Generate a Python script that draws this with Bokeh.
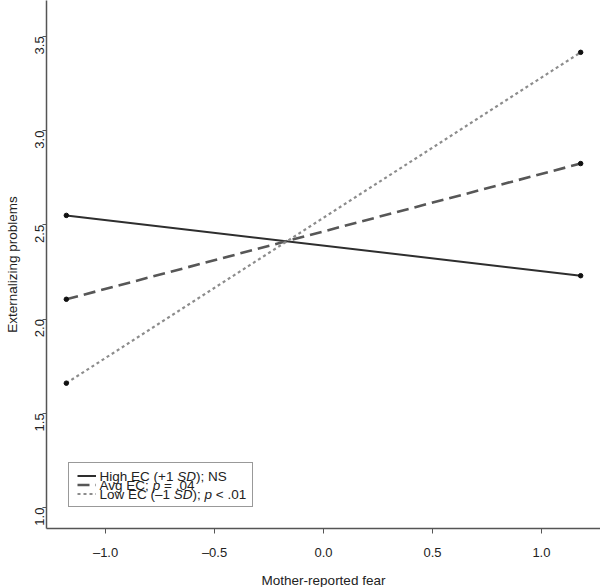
import math
from bokeh.plotting import figure
from bokeh.models import Range1d, Legend, LegendItem, FixedTicker, Label
from bokeh.embed import file_html
from bokeh.resources import INLINE

# Data
fear = [-1.18, 1.18]
high_ec = [2.55, 2.23]
avg_ec = [2.105, 2.825]
low_ec = [1.66, 3.415]
# legend labels as (text, italic) runs
label_runs = [
    [("High EC (+1 ", False), ("SD", True), ("); NS", False)],
    [("Avg EC; ", False), ("p", True), (" = .04", False)],
    [("Low EC (\u20131 ", False), ("SD", True), ("); ", False), ("p", True), (" < .01", False)],
]
x_ticks = [-1.0, -0.5, 0.0, 0.5, 1.0]
y_ticks = [1.0, 1.5, 2.0, 2.5, 3.0, 3.5]

FONT = "Liberation Sans"
FS = 13.5

# Arial / Liberation Sans advance widths (1/1000 em)
W = {" ": 278, "(": 333, ")": 333, "+": 584, ";": 278, "=": 584, ".": 278, "<": 584,
     "\u2013": 556, "0": 556, "1": 556, "4": 556, "H": 722, "i": 222, "g": 556, "h": 556,
     "E": 667, "C": 722, "S": 667, "D": 722, "N": 722, "A": 667, "v": 500, "L": 556,
     "o": 556, "w": 722, "p": 556}


def text_width(s):
    return sum(W.get(c, 556) for c in s) * FS / 1000.0


p = figure(frame_width=554, frame_height=528, output_backend="svg", toolbar_location=None,
           x_range=Range1d(-1.271, 1.271), y_range=Range1d(0.889, 3.69),
           min_border_left=46, min_border_right=0, min_border_top=0, min_border_bottom=0)
p.outline_line_color = None
p.grid.visible = False
p.background_fill_color = "white"
p.border_fill_color = "white"

styles = [
    (high_ec, "#2e2e2e", 2.0, "solid"),
    (avg_ec, "#575757", 2.6, "12 6"),
    (low_ec, "#8c8c8c", 2.2, "3 3"),
]
items = []
for vals, col, w, dash in styles:
    r = p.line(fear, vals, line_color=col, line_width=w, line_dash=dash)
    p.scatter(fear, vals, size=4.5, color="#111111")
    items.append(LegendItem(label=" ", renderers=[r]))

legend = Legend(items=items, location=(22, 21))
legend.label_text_font = FONT
legend.label_text_font_size = "1px"
legend.label_height = 9
legend.glyph_height = 9
legend.glyph_width = 19
legend.label_width = 142
legend.label_standoff = 6
legend.spacing = 0
legend.padding = 8
legend.margin = 0
legend.border_line_color = "#333333"
legend.border_line_width = 1
legend.background_fill_alpha = 0.0
p.add_layout(legend, "center")

# legend texts with italic runs (screen units, relative to frame bottom-left)
text_x0 = 53
baselines = [52, 43, 34]
for runs, yb in zip(label_runs, baselines):
    x = text_x0
    for txt, ital in runs:
        shown = txt.strip()
        lead = text_width(txt[:len(txt) - len(txt.lstrip())])
        lab = Label(x=x + lead, y=yb, x_units="screen", y_units="screen", text=shown,
                    text_font=FONT, text_font_size="%gpx" % FS,
                    text_font_style="italic" if ital else "normal",
                    text_color="#222222", text_baseline="alphabetic",
                    text_align="left")
        p.add_layout(lab)
        x += text_width(txt)

for ax in (p.xaxis[0], p.yaxis[0]):
    ax.axis_line_color = "#555555"
    ax.axis_line_width = 1.5
    ax.major_tick_line_color = "#555555"
    ax.minor_tick_line_color = None
    ax.major_tick_in = 0
    ax.major_label_text_font = FONT
    ax.major_label_text_font_size = "13px"
    ax.major_label_text_color = "#222222"
    ax.axis_label_text_font = FONT
    ax.axis_label_text_font_size = "13.5px"
    ax.axis_label_text_font_style = "normal"
    ax.axis_label_text_color = "#222222"

p.xaxis.ticker = FixedTicker(ticks=x_ticks)
p.yaxis.ticker = FixedTicker(ticks=y_ticks)
p.xaxis.major_label_overrides = {t: ("\u2013%.1f" % abs(t)) if t < 0 else "%.1f" % t for t in x_ticks}
p.yaxis.major_label_overrides = {t: "%.1f" % t for t in y_ticks}
p.xaxis.axis_label = "Mother-reported fear"
p.yaxis.axis_label = "Externalizing problems"
p.yaxis.major_label_orientation = math.pi / 2
p.xaxis.major_tick_out = 5
p.yaxis.major_tick_out = 4
p.xaxis.major_label_standoff = 11
p.xaxis.axis_label_standoff = 10
p.yaxis.major_label_standoff = 3
p.yaxis.axis_label_standoff = 8

open("out.html", "w").write(file_html(p, INLINE))
